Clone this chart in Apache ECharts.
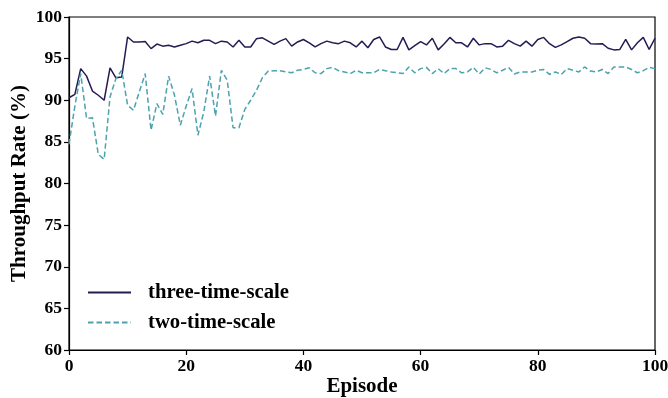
<!DOCTYPE html>
<html>
<head>
<meta charset="utf-8">
<script src="https://cdn.jsdelivr.net/npm/echarts@6/dist/echarts.min.js"></script>
<style>
  html, body { margin: 0; padding: 0; background: #fff; }
  #chart { width: 668px; height: 398px; }
</style>
</head>
<body>
<div id="chart"></div>
<script>
// Throughput rate per episode for the two schedulers
const episodes = Array.from({ length: 101 }, (_, i) => i);

const threeTimeScale = [
  90.3, 90.7, 93.8, 92.9, 91.1, 90.6, 90.0, 93.9, 92.7, 92.8,
  97.6, 97.0, 97.0, 97.05, 96.2, 96.75, 96.5, 96.6, 96.4, 96.6,
  96.8, 97.1, 96.9, 97.2, 97.2, 96.8, 97.1, 97.0, 96.4, 97.2,
  96.4, 96.4, 97.4, 97.5, 97.1, 96.7, 97.1, 97.4, 96.5, 97.0,
  97.3, 96.9, 96.4, 96.8, 97.1, 96.9, 96.8, 97.1, 96.9, 96.4,
  97.1, 96.3, 97.3, 97.6, 96.4, 96.1, 96.1, 97.55, 96.05, 96.55,
  97.05, 96.65, 97.45, 96.05, 96.75, 97.55, 96.9, 96.9, 96.4, 97.45,
  96.65, 96.8, 96.8, 96.4, 96.5, 97.2, 96.8, 96.5, 97.1, 96.5,
  97.3, 97.55, 96.8, 96.35, 96.65, 97.05, 97.45, 97.6, 97.45, 96.8,
  96.75, 96.8, 96.25, 96.05, 96.1, 97.3, 96.05, 96.9, 97.55, 96.1,
  97.45
];

const twoTimeScale = [
  84.7, 89.3, 93.2, 87.8, 87.9, 83.5, 82.9, 90.4, 92.6, 93.6,
  89.4, 88.8, 91.0, 93.2, 86.4, 89.6, 88.3, 92.9, 90.6, 87.0,
  89.3, 91.4, 85.8, 88.6, 92.9, 88.1, 93.6, 92.4, 86.7, 86.7,
  88.9, 90.0, 91.2, 92.7, 93.5, 93.55, 93.55, 93.4, 93.3, 93.6,
  93.7, 93.9, 93.3, 93.2, 93.8, 93.95, 93.55, 93.4, 93.2, 93.6,
  93.3, 93.3, 93.3, 93.7, 93.55, 93.4, 93.3, 93.2, 94.0, 93.3,
  93.8, 93.95, 93.2, 93.8, 93.2, 93.8, 93.8, 93.3, 93.4, 93.95,
  93.15, 93.9, 93.7, 93.3, 93.6, 93.95, 93.15, 93.4, 93.4, 93.4,
  93.6, 93.7, 93.1, 93.4, 93.1, 93.8, 93.6, 93.4, 94.0, 93.5,
  93.4, 93.7, 93.2, 94.0, 94.0, 94.0, 93.7, 93.3, 93.55, 93.95,
  93.8
];

const yTicks = { min: 60, max: 100, step: 5 };
const xTicks = { min: 0, max: 100, step: 20 };

const font = 'Liberation Serif, Times New Roman, serif';
const toPairs = (ys) => episodes.map((x, i) => [x, ys[i]]);

const chart = echarts.init(document.getElementById('chart'), null, { renderer: 'canvas' });

const axisCommon = {
  nameLocation: 'middle',
  nameMoveOverlap: false,
  nameTextStyle: { fontFamily: font, fontWeight: 'bold', fontSize: 21, color: '#000' },
  axisLine: { show: true, lineStyle: { color: '#000', width: 1.2 } },
  axisTick: { show: true, inside: false, length: 5, lineStyle: { color: '#000', width: 1.2 } },
  axisLabel: { fontFamily: font, fontWeight: 'bold', fontSize: 17.5, color: '#000', margin: 7 },
  splitLine: { show: false }
};

chart.setOption({
  animation: false,
  backgroundColor: '#ffffff',
  grid: {
    left: 69, right: 13, top: 17, bottom: 48,
    containLabel: false,
    outerBoundsMode: 'none',
    show: true, borderColor: '#000', borderWidth: 1.2, backgroundColor: 'transparent'
  },
  legend: {
    left: 82, top: 277,
    orient: 'vertical',
    itemWidth: 43, itemHeight: 14, itemGap: 9,
    itemStyle: { opacity: 0 },
    textStyle: { fontFamily: font, fontWeight: 'bold', fontSize: 20.7, color: '#000', padding: [0, 0, 0, 12] },
    data: ['three-time-scale', 'two-time-scale']
  },
  xAxis: Object.assign({}, axisCommon, {
    type: 'value',
    min: xTicks.min, max: xTicks.max, interval: xTicks.step,
    name: 'Episode', nameGap: 26
  }),
  yAxis: Object.assign({}, axisCommon, {
    type: 'value',
    min: yTicks.min, max: yTicks.max, interval: yTicks.step,
    name: 'Throughput Rate (%)', nameGap: 39
  }),
  series: [
    {
      name: 'three-time-scale',
      type: 'line',
      data: toPairs(threeTimeScale),
      symbol: 'none',
      color: '#261b52',
      lineStyle: { color: '#261b52', width: 1.5 }
    },
    {
      name: 'two-time-scale',
      type: 'line',
      data: toPairs(twoTimeScale),
      symbol: 'none',
      color: '#4ca2ad',
      lineStyle: { color: '#4ca2ad', width: 1.5, type: [5.5, 3] }
    }
  ]
});
</script>
</body>
</html>
